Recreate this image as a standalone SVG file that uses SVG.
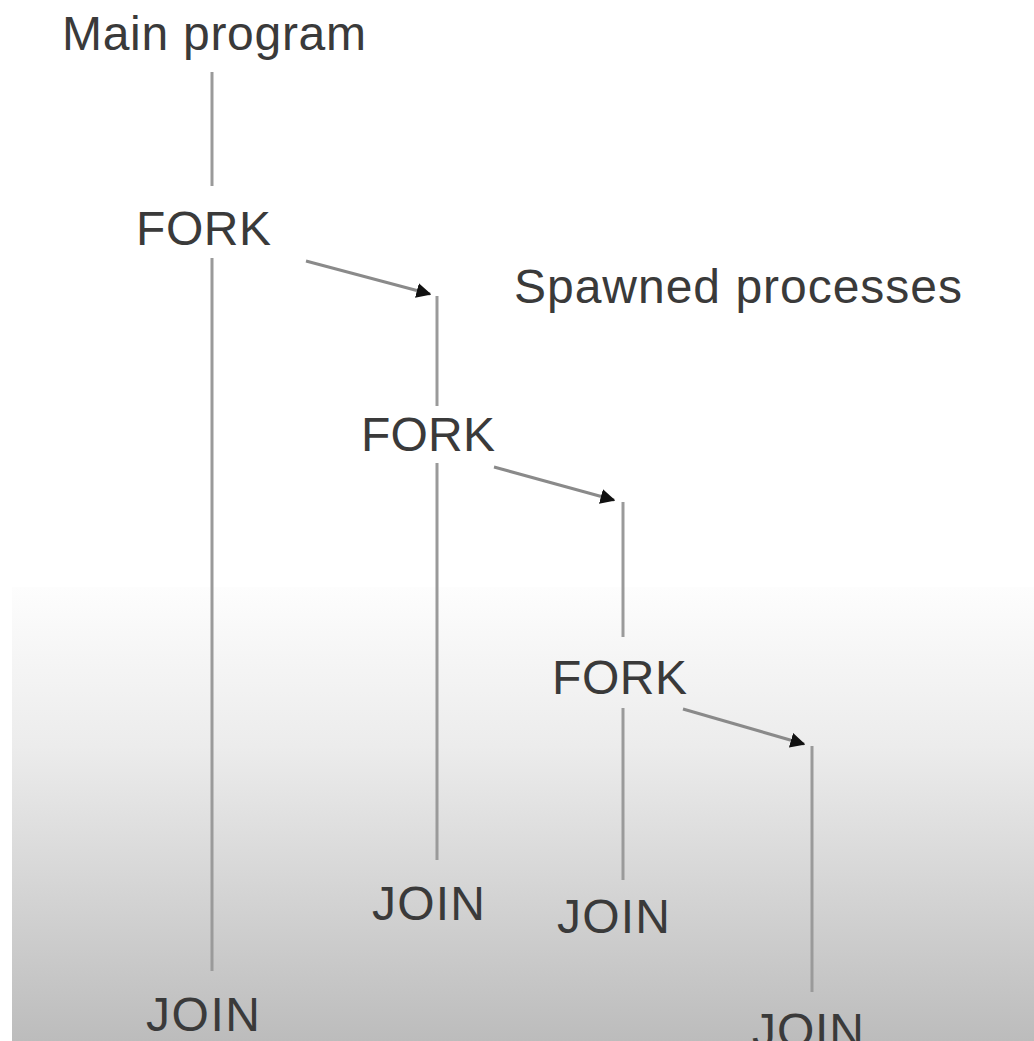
<svg xmlns="http://www.w3.org/2000/svg" width="1034" height="1041" viewBox="0 0 1034 1041">
<defs>
<linearGradient id="bg" x1="0" y1="0" x2="0" y2="1">
<stop offset="0" stop-color="#fdfdfd"/>
<stop offset="0.35" stop-color="#ececec"/>
<stop offset="1" stop-color="#bcbcbc"/>
</linearGradient>
<marker id="ah" viewBox="0 0 10 10" refX="9" refY="5" markerWidth="5" markerHeight="5" orient="auto" markerUnits="strokeWidth">
<path d="M0,0 L10,5 L0,10 z" fill="#111"/>
</marker>
<style>
.t{font-family:"Liberation Sans",Arial,sans-serif;font-size:48px;fill:#3a3a3a}
.ln{stroke:#9a9a9a;stroke-width:3;fill:none}
.ar{stroke:#8a8a8a;stroke-width:3;fill:none}
</style>
</defs>
<rect x="0" y="0" width="1034" height="1041" fill="#ffffff"/>
<rect x="12" y="587" width="1022" height="454" fill="url(#bg)"/>
<g id="connectors">
<line class="ln" x1="212" y1="72" x2="212" y2="186"/>
<line class="ln" x1="212" y1="258" x2="212" y2="971"/>
<path class="ar" d="M306,261 L430,294" marker-end="url(#ah)"/>
<line class="ln" x1="437" y1="296" x2="437" y2="406"/>
<line class="ln" x1="437" y1="463" x2="437" y2="860"/>
<path class="ar" d="M494,467 L614,500" marker-end="url(#ah)"/>
<line class="ln" x1="623" y1="502" x2="623" y2="637"/>
<line class="ln" x1="623" y1="708" x2="623" y2="880"/>
<path class="ar" d="M683,709 L804,744" marker-end="url(#ah)"/>
<line class="ln" x1="812" y1="746" x2="812" y2="992"/>
</g>
<g id="main-program"><text class="t" x="62" y="50" textLength="304">Main program</text></g>
<g id="spawned-label"><text class="t" x="514" y="303" textLength="448">Spawned processes</text></g>
<g id="fork1"><text class="t" x="136" y="245" textLength="135">FORK</text></g>
<g id="fork2"><text class="t" x="361" y="451" textLength="134">FORK</text></g>
<g id="fork3"><text class="t" x="552" y="694" textLength="135">FORK</text></g>
<g id="join1"><text class="t" x="146" y="1031" textLength="114">JOIN</text></g>
<g id="join2"><text class="t" x="372" y="920" textLength="113">JOIN</text></g>
<g id="join3"><text class="t" x="557" y="933" textLength="113">JOIN</text></g>
<g id="join4"><text class="t" x="752" y="1047" textLength="112">JOIN</text></g>
</svg>
